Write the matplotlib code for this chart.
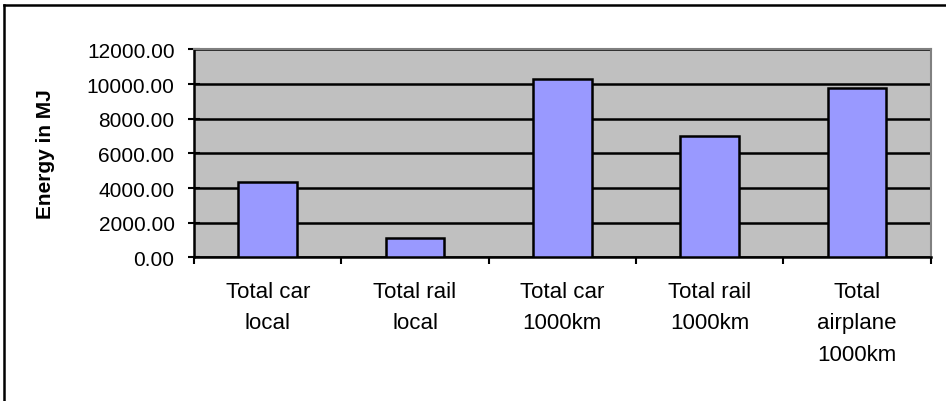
import matplotlib.pyplot as plt
import matplotlib.ticker as mticker
from matplotlib.lines import Line2D

plt.rcParams['font.family'] = ['Liberation Sans', 'DejaVu Sans']

# datos
categorias = ["Total car\nlocal", "Total rail\nlocal", "Total car\n1000km",
              "Total rail\n1000km", "Total\nairplane\n1000km"]
energia = [4360, 1100, 10300, 7000, 9800]
marcas_y = [0, 2000, 4000, 6000, 8000, 10000, 12000]

fig = plt.figure(figsize=(9.46, 4.02), dpi=100)
ax = fig.add_axes([0.2051, 0.3575, 0.7787, 0.5169])
ax.set_facecolor("#C0C0C0")

x = list(range(len(categorias)))
ax.bar(x, energia, width=0.4, color="#9999FF", edgecolor="black", linewidth=1.8, zorder=3)

ax.set_xlim(-0.5, len(categorias) - 0.5)
ax.set_ylim(0, 12000)
ax.set_yticks(marcas_y)
ax.yaxis.set_major_formatter(mticker.FormatStrFormatter("%.2f"))
ax.grid(axis="y", color="black", linewidth=1.8, zorder=1)

# categorias centradas, marcas entre categorias
ax.set_xticks(x)
ax.set_xticklabels(categorias, fontsize=16, linespacing=1.65)
ax.set_xticks([i - 0.5 for i in range(len(categorias) + 1)], minor=True)
ax.tick_params(axis="x", which="major", length=0, pad=17)
ax.tick_params(axis="x", which="minor", length=5, width=1.5, direction="out")
ax.tick_params(axis="y", labelsize=15, direction="inout", length=8, width=1.5, pad=10)

for s in ["left", "bottom"]:
    ax.spines[s].set_color("black")
    ax.spines[s].set_linewidth(1.8)
for s in ["top", "right"]:
    ax.spines[s].set_color("#808080")
    ax.spines[s].set_linewidth(1.5)

ax.set_ylabel("Energy in MJ", fontsize=15, fontweight="bold")
ax.yaxis.set_label_coords(-0.1886, 0.5)

# marco del grafico (solo visibles izquierda y arriba)
fig.add_artist(Line2D([0.004, 0.004], [0, 0.985], transform=fig.transFigure, color="black", linewidth=1.8))
fig.add_artist(Line2D([0.004, 1.0], [0.985, 0.985], transform=fig.transFigure, color="black", linewidth=1.8))

fig.savefig("out.png", dpi=100)
